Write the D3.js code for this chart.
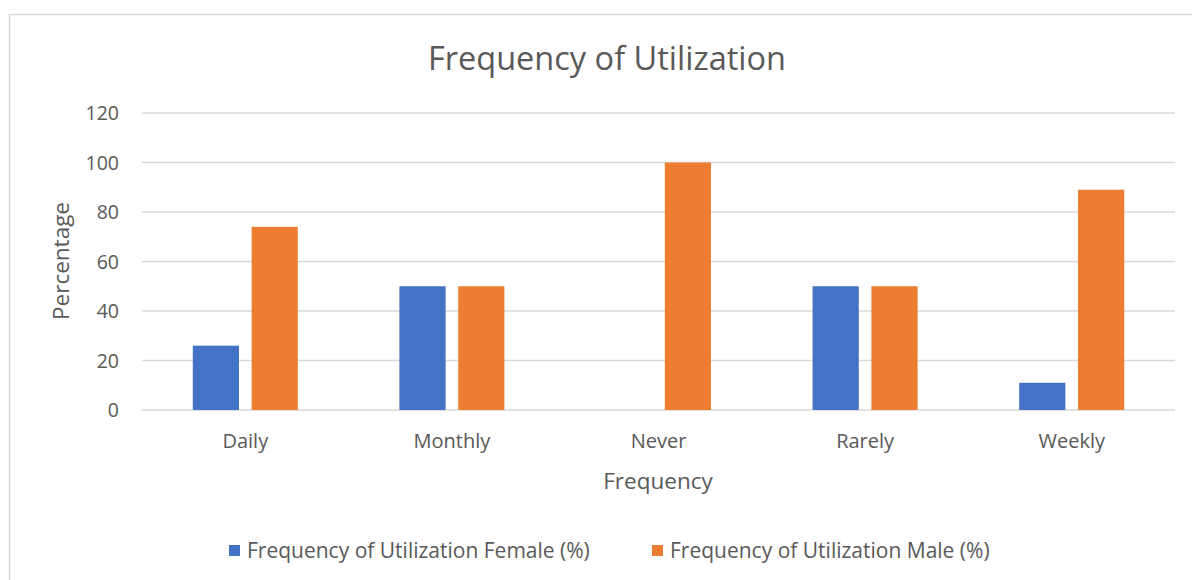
<!DOCTYPE html>
<html>
<head>
    <meta charset="utf-8" />
    <title>Frequency of Utilization</title>
    <script src="https://cdn.jsdelivr.net/npm/d3@7"></script>
    <style>
        body { margin: 0; background: #fff; }
        text { font-family: "Open Sans", sans-serif; fill: #595959; }
    </style>
</head>
<body>
    <svg id="chart" width="1192" height="580"></svg>
    <script>
        const categories = ['Daily', 'Monthly', 'Never', 'Rarely', 'Weekly'];
        const female = [26, 50, 0, 50, 11];
        const male = [74, 50, 100, 50, 89];
        const seriesNames = ['Frequency of Utilization Female (%)', 'Frequency of Utilization Male (%)'];
        const yTicks = [0, 20, 40, 60, 80, 100, 120];

        const colors = ['#4472c4', '#ed7d31'];
        const svg = d3.select('#chart');

        // chart frame
        svg.append('rect')
            .attr('x', 9.5).attr('y', 14.5)
            .attr('width', 1200).attr('height', 600)
            .style('fill', 'none').style('stroke', '#d9d9d9').style('stroke-width', 1.5);

        const x0 = d3.scaleBand().domain(categories).range([142, 1175]);
        const x1 = d3.scaleBand().domain([0, 1]).range([0, 105]).paddingInner(0.215);
        const y = d3.scaleLinear().domain([0, 120]).range([410, 113]);

        // gridlines
        svg.append('g')
            .selectAll('line')
            .data(yTicks)
            .enter().append('line')
            .attr('x1', 142).attr('x2', 1175)
            .attr('y1', d => y(d)).attr('y2', d => y(d))
            .style('stroke', '#d9d9d9').style('stroke-width', 1.5);

        const yAxis = svg.append('g')
            .attr('transform', 'translate(119,0)')
            .call(d3.axisLeft(y).tickValues(yTicks).tickSize(0).tickPadding(0));
        yAxis.select('.domain').remove();
        yAxis.selectAll('text').style('font-size', '19.5px').attr('dy', '0.35em');

        const xAxis = svg.append('g')
            .attr('transform', 'translate(0,410)')
            .call(d3.axisBottom(x0).tickSize(0).tickPadding(24));
        xAxis.select('.domain').remove();
        xAxis.selectAll('text').style('font-size', '20px');

        const rows = categories.map((c, i) => ({ cat: c, vals: [female[i], male[i]] }));
        svg.append('g')
            .selectAll('g')
            .data(rows)
            .enter().append('g')
            .attr('transform', d => `translate(${x0(d.cat) + (x0.bandwidth() - 105) / 2},0)`)
            .selectAll('rect')
            .data(d => d.vals.map((v, k) => ({ k, v })))
            .enter().append('rect')
            .attr('x', d => x1(d.k))
            .attr('width', x1.bandwidth())
            .attr('y', d => y(d.v))
            .attr('height', d => y(0) - y(d.v))
            .style('fill', d => colors[d.k]);

        svg.append('text')
            .attr('x', 607).attr('y', 70)
            .attr('text-anchor', 'middle')
            .style('font-size', '32.5px')
            .text('Frequency of Utilization');

        svg.append('text')
            .attr('x', 658).attr('y', 489)
            .attr('text-anchor', 'middle')
            .style('font-size', '22.5px')
            .text('Frequency');

        svg.append('text')
            .attr('transform', 'translate(69,261) rotate(-90)')
            .attr('text-anchor', 'middle')
            .style('font-size', '22.5px')
            .text('Percentage');

        const legendX = [229, 652];
        const legend = svg.append('g')
            .selectAll('g')
            .data(seriesNames)
            .enter().append('g')
            .attr('transform', (d, i) => `translate(${legendX[i]},545)`);
        legend.append('rect')
            .attr('width', 11).attr('height', 11)
            .style('fill', (d, i) => colors[i]);
        legend.append('text')
            .attr('x', 18).attr('y', 6)
            .attr('dy', '0.35em')
            .style('font-size', '21px')
            .text(d => d);
    </script>
</body>
</html>
